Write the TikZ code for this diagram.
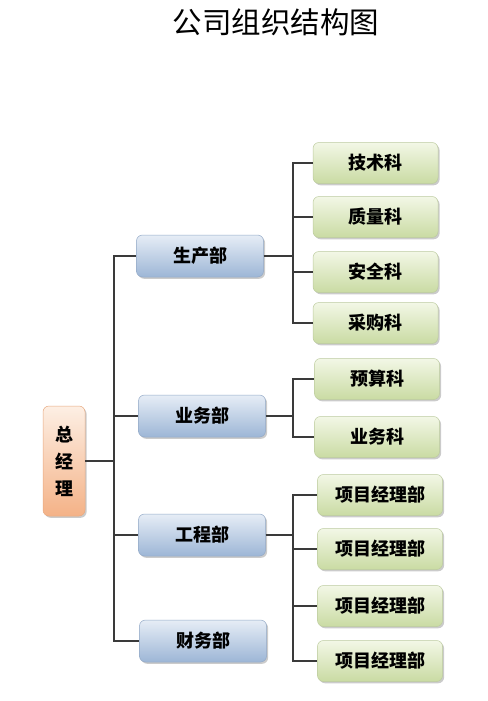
\documentclass[tikz,border=0pt]{standalone}
\usepackage{fontspec}
\newfontfamily\cjk{Noto Sans CJK SC}
\usetikzlibrary{shadows}
\definecolor{gtop}{HTML}{F2F7E6}
\definecolor{gbot}{HTML}{CADBA3}
\definecolor{gline}{HTML}{BCCB9E}
\definecolor{btop}{HTML}{E6EDF6}
\definecolor{bbot}{HTML}{9DB6D6}
\definecolor{bline}{HTML}{93A9C6}
\definecolor{otop}{HTML}{FDEFE4}
\definecolor{obot}{HTML}{F4B287}
\definecolor{oline}{HTML}{E8A980}
\definecolor{conn}{HTML}{3A3A3A}
\tikzset{
  boxbase/.style={rounded corners=6pt, inner sep=0pt, font=\cjk\bfseries\fontsize{18}{21}\selectfont,
    drop shadow={shadow xshift=1.6pt, shadow yshift=-1.8pt, fill=black!45, opacity=0.45}},
  greenbox/.style={boxbase, minimum width=125pt, minimum height=41pt, top color=gtop, bottom color=gbot, draw=gline, line width=0.5pt},
  bluebox/.style={boxbase, minimum width=127pt, minimum height=42pt, top color=btop, bottom color=bbot, draw=bline, line width=0.5pt},
  rootbox/.style={boxbase, minimum width=42pt, minimum height=110pt, top color=otop, bottom color=obot, draw=oline, line width=0.5pt, align=center},
  link/.style={draw=conn, line width=1.3pt}
}
\begin{document}
\begin{tikzpicture}[x=1pt,y=-1pt]
\useasboundingbox (0,0) rectangle (487,701);
\node[font=\cjk\fontsize{29.5}{33}\selectfont] (title) at (276,22) {公司组织结构图};

\node[rootbox] (root) at (64,461) {总\\[6pt]经\\[6pt]理};

\node[bluebox] (sc) at (200,256) {生产部};
\node[bluebox] (yw) at (202,416) {业务部};
\node[bluebox] (gc) at (202,535) {工程部};
\node[bluebox] (cw) at (203,641) {财务部};

\node[greenbox] (js) at (375.5,163) {技术科};
\node[greenbox] (zl) at (375.5,217) {质量科};
\node[greenbox] (aq) at (375.5,272) {安全科};
\node[greenbox] (cg) at (375.5,323) {采购科};
\node[greenbox] (ys) at (377,379) {预算科};
\node[greenbox] (ywk) at (377,437) {业务科};
\node[greenbox] (p1) at (380,495) {项目经理部};
\node[greenbox] (p2) at (380,549) {项目经理部};
\node[greenbox] (p3) at (380,606) {项目经理部};
\node[greenbox] (p4) at (380,661) {项目经理部};

\coordinate (t) at (114,0);
\coordinate (b) at (293,0);

\foreach \d in {sc,yw,gc,cw}
  \draw[link] (root.east) -- (root.east -| t) |- (\d.west);
\foreach \c in {js,zl,aq,cg}
  \draw[link] (sc.east) -- (sc.east -| b) |- (\c.west);
\foreach \c in {ys,ywk}
  \draw[link] (yw.east) -- (yw.east -| b) |- (\c.west);
\foreach \c in {p1,p2,p3,p4}
  \draw[link] (gc.east) -- (gc.east -| b) |- (\c.west);
\end{tikzpicture}
\end{document}
